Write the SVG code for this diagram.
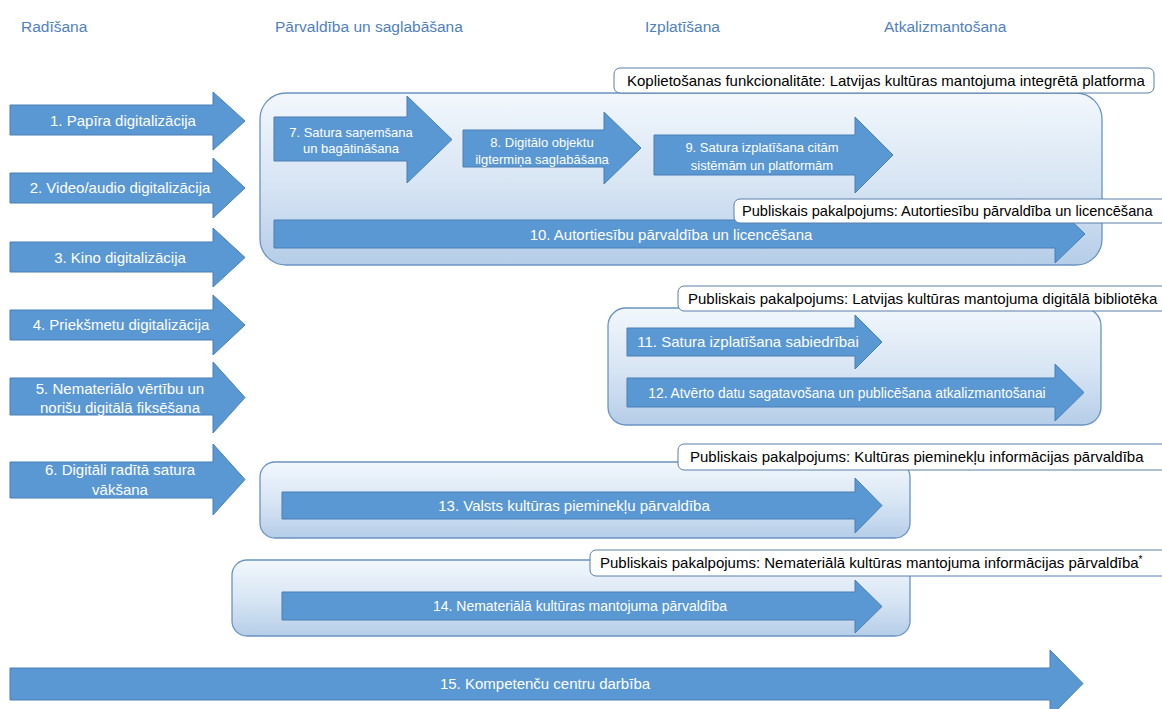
<svg xmlns="http://www.w3.org/2000/svg" width="1162" height="709" viewBox="0 0 1162 709">
<defs>
<linearGradient id="cg" x1="0" y1="0" x2="0" y2="1">
<stop offset="0" stop-color="#f2f7fc"/>
<stop offset="0.55" stop-color="#d6e4f3"/>
<stop offset="1" stop-color="#b5cde8"/>
</linearGradient>
<style>
.hdr{font-family:"Liberation Sans",Arial,sans-serif;font-size:15.5px;fill:#4f81bd}
.arr{fill:#5a98d3;stroke:#4a7fb5;stroke-width:1}
.at{font-family:"Liberation Sans",Arial,sans-serif;font-size:15px;fill:#ffffff;text-anchor:middle}
.sm{font-size:13px}
.cont{fill:url(#cg);stroke:#6b93c2;stroke-width:1.3}
.lbl{fill:#ffffff;stroke:#5a7ea8;stroke-width:1}
.lt{font-family:"Liberation Sans",Arial,sans-serif;font-size:15px;fill:#000000}
</style>
</defs>
<rect width="1162" height="709" fill="#ffffff"/>

<g id="headers">
<text class="hdr" x="21" y="32">Radīšana</text>
<text class="hdr" x="275" y="32">Pārvaldība un saglabāšana</text>
<text class="hdr" x="645" y="32">Izplatīšana</text>
<text class="hdr" x="884" y="32">Atkalizmantošana</text>
</g>

<g id="containers">
<rect id="c-platforma" class="cont" x="260" y="93" width="842" height="172" rx="26"/>
<rect id="c-biblioteka" class="cont" x="608" y="308" width="493" height="117" rx="18"/>
<rect id="c-pieminekli" class="cont" x="260" y="462" width="650" height="76" rx="15"/>
<rect id="c-nematerialais" class="cont" x="232" y="560" width="678" height="76" rx="15"/>
</g>

<g id="n1"><path class="arr" d="M10,105 H213 V92 L245,121 L213,150 V135 H10 Z"/><text class="at" x="123" y="126">1. Papīra digitalizācija</text></g>
<g id="n2"><path class="arr" d="M10,173 H213 V158 L245,188 L213,218 V203 H10 Z"/><text class="at" x="120" y="193">2. Video/audio digitalizācija</text></g>
<g id="n3"><path class="arr" d="M10,242 H213 V228 L245,257.5 L213,287 V272 H10 Z"/><text class="at" x="120" y="262.5">3. Kino digitalizācija</text></g>
<g id="n4"><path class="arr" d="M10,310 H213 V295 L245,325 L213,355 V340 H10 Z"/><text class="at" x="121" y="330">4. Priekšmetu digitalizācija</text></g>
<g id="n5"><path class="arr" d="M10,378 H213 V362 L245,397.5 L213,433 V415 H10 Z"/><text class="at" x="120" y="393.5">5. Nemateriālo vērtību un</text><text class="at" x="120" y="413">norišu digitālā fiksēšana</text></g>
<g id="n6"><path class="arr" d="M10,462 H213 V444 L245,479.5 L213,515 V498 H10 Z"/><text class="at" x="120" y="475">6. Digitāli radītā satura</text><text class="at" x="120" y="495">vākšana</text></g>

<g id="n7"><path class="arr" d="M274,117 H407 V96 L452,139.5 L407,183 V161 H274 Z"/><text class="at sm" x="351" y="136.5">7. Satura saņemšana</text><text class="at sm" x="351" y="152.5">un bagātināšana</text></g>
<g id="n8"><path class="arr" d="M463,130 H604 V112 L641,148 L604,184 V167 H463 Z"/><text class="at sm" x="542" y="146.5">8. Digitālo objektu</text><text class="at sm" x="542" y="163.5">ilgtermiņa saglabāšana</text></g>
<g id="n9"><path class="arr" d="M654,135 H855 V117 L893,155 L855,193 V175 H654 Z"/><text class="at sm" x="762" y="151.5">9. Satura izplatīšana citām</text><text class="at sm" x="762" y="169.5">sistēmām un platformām</text></g>
<g id="n10"><path class="arr" d="M274,220 H1055 V205 L1085,234 L1055,263 V248 H274 Z"/><text class="at" x="671" y="239.5">10. Autortiesību pārvaldība un licencēšana</text></g>

<g id="n11"><path class="arr" d="M627,328 H855 V315 L882,342 L855,369 V356 H627 Z"/><text class="at" x="748" y="347" font-size="14.5">11. Satura izplatīšana sabiedrībai</text></g>
<g id="n12"><path class="arr" d="M627,378 H1055 V364 L1084,392.5 L1055,421 V407 H627 Z"/><text class="at" x="847" y="397.5" style="font-size:13.8px">12. Atvērto datu sagatavošana un publicēšana atkalizmantošanai</text></g>

<g id="n13"><path class="arr" d="M282,492 H855 V478 L882,505.5 L855,533 V519 H282 Z"/><text class="at" x="574" y="510.5">13. Valsts kultūras pieminekļu pārvaldība</text></g>
<g id="n14"><path class="arr" d="M282,592 H855 V580 L882,606.5 L855,633 V620 H282 Z"/><text class="at" x="580" y="611" style="font-size:14px">14. Nemateriālā kultūras mantojuma pārvaldība</text></g>

<g id="n15"><path class="arr" d="M10,668 H1050 V650 L1083,683.5 L1050,717 V700 H10 Z"/><text class="at" x="545" y="689">15. Kompetenču centru darbība</text></g>

<g id="labels">
<g id="l-platforma"><rect class="lbl" x="614" y="68" width="540" height="25" rx="6"/><text class="lt" x="627" y="86">Koplietošanas funkcionalitāte: Latvijas kultūras mantojuma integrētā platforma</text></g>
<g id="l-autortiesibas"><rect class="lbl" x="734" y="199" width="434" height="24" rx="6"/><text class="lt" x="742" y="216" style="font-size:14.6px">Publiskais pakalpojums: Autortiesību pārvaldība un licencēšana</text></g>
<g id="l-biblioteka"><rect class="lbl" x="678" y="286" width="490" height="25" rx="6"/><text class="lt" x="688" y="303.5">Publiskais pakalpojums: Latvijas kultūras mantojuma digitālā bibliotēka</text></g>
<g id="l-pieminekli"><rect class="lbl" x="678" y="444" width="490" height="26" rx="6"/><text class="lt" x="690" y="462">Publiskais pakalpojums: Kultūras pieminekļu informācijas pārvaldība</text></g>
<g id="l-nematerialais"><rect class="lbl" x="590" y="550" width="578" height="26" rx="6"/><text class="lt" x="600" y="568">Publiskais pakalpojums: Nemateriālā kultūras mantojuma informācijas pārvaldība<tspan dy="-5" font-size="10">*</tspan></text></g>
</g>
<g id="connectors"/>
</svg>
